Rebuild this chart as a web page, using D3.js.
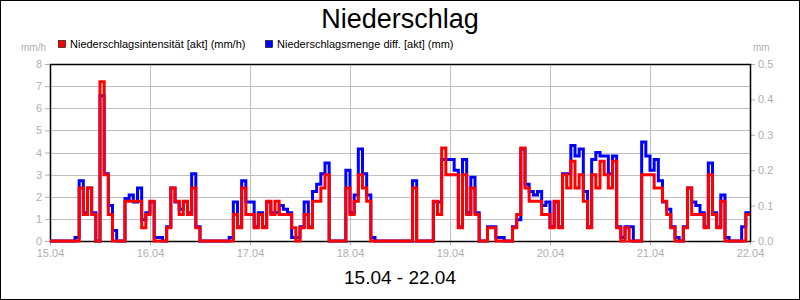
<!DOCTYPE html>
<html>
<head>
<meta charset="utf-8">
<script src="https://cdn.jsdelivr.net/npm/d3@7"></script>
<style>
  body { margin: 0; background: #fff; }
  svg { display: block; font-family: "Liberation Sans", Arial, sans-serif; }
  .tick text { fill: #b0b0b0; font-size: 11px; }
  .tick line { stroke: #b0b0b0; }
  .domain { display: none; }
</style>
</head>
<body>
<svg id="chart" width="800" height="300"></svg>
<script>
// day labels (x ticks every 24 h)
const dayLabels = ["15.04", "16.04", "17.04", "18.04", "19.04", "20.04", "21.04", "22.04"];

// Niederschlagsintensität [akt] (mm/h), hourly, one row per day
const intensity = [
  0,0,0,0,0,0, 0,2.4,1.2,2.4,1.2,0, 7.2,3.0,1.2,0,0,0, 1.8,1.8,1.8,1.8,0.6,1.2,
  1.8,0,0,0,0.6,2.4, 1.8,1.2,1.8,1.2,2.4,0.6, 0,0,0,0,0,0, 0,0,1.2,0.6,2.4,1.2,
  1.2,0.6,1.2,0.6,1.8,1.2, 1.8,1.2,1.2,1.2,0.6,0, 0.6,1.2,0.6,1.8,1.8,2.4, 3.0,0,0,0,0,2.4,
  1.2,1.8,3.0,2.4,1.8,0, 0,0,0,0,0,0, 0,0,0,2.4,0,0, 0,0,1.8,1.2,4.2,3.0,
  3.0,3.0,0.6,3.0,1.2,2.4, 1.2,0,0,0.6,0.6,0, 0,0,0,0.6,1.2,4.2, 2.4,1.8,1.8,1.8,1.2,1.2,
  0.6,1.8,0.6,3.0,2.4,3.6, 2.4,3.0,1.8,0.6,3.0,2.4, 3.6,3.0,2.4,3.6,0.6,0, 0.6,0,0,0,3.0,3.0,
  3.0,2.4,2.4,1.8,1.2,0.6, 0,0,0.6,2.4,1.2,1.2, 1.2,0.6,3.0,1.2,0.6,1.8, 0,0,0,0,0,1.2
];

// Niederschlagsmenge diff. [akt] (mm), hourly, one row per day
const amount = [
  0,0,0,0,0,0, 0.01,0.17,0.08,0.15,0.08,0, 0.41,0.19,0.10,0.03,0,0, 0.12,0.13,0.11,0.15,0.06,0.08,
  0.11,0.01,0.01,0,0.04,0.15, 0.11,0.09,0.11,0.08,0.19,0.04, 0,0,0,0,0,0, 0,0.01,0.11,0.04,0.17,0.11,
  0.11,0.04,0.08,0.04,0.11,0.08, 0.08,0.10,0.09,0.08,0.01,0.01, 0.04,0.11,0.04,0.14,0.16,0.19, 0.22,0,0,0,0,0.20,
  0.08,0.13,0.26,0.19,0.13,0.01, 0,0,0,0,0,0, 0,0,0,0.17,0,0, 0,0,0.11,0.11,0.23,0.23,
  0.23,0.20,0.04,0.23,0.08,0.18, 0.08,0,0,0.04,0.04,0.01, 0.01,0,0,0.04,0.06,0.26, 0.16,0.14,0.13,0.14,0.10,0.11,
  0.04,0.11,0.04,0.19,0.19,0.27, 0.24,0.26,0.14,0.04,0.23,0.25, 0.24,0.24,0.19,0.24,0.04,0.01, 0.04,0.04,0,0,0.28,0.24,
  0.20,0.23,0.17,0.11,0.09,0.04, 0.01,0,0.04,0.15,0.11,0.10, 0.08,0.04,0.22,0.08,0.04,0.13, 0.01,0,0,0,0.04,0.08
];

const leftTicks = [0, 1, 2, 3, 4, 5, 6, 7, 8];
const rightTicks = [0, 0.1, 0.2, 0.3, 0.4, 0.5];

const svg = d3.select("#chart");
const plot = { left: 50, right: 750, top: 64, bottom: 241 };

const x = d3.scaleLinear().domain([0, 168]).range([plot.left, plot.right]);
const yL = d3.scaleLinear().domain([0, 8]).range([plot.bottom, plot.top]);
const yR = d3.scaleLinear().domain([0, 0.5]).range([plot.bottom, plot.top]);

// outer frame
svg.append("rect")
    .attr("x", 0.5).attr("y", 0.5)
    .attr("width", 799).attr("height", 299)
    .attr("fill", "none").attr("stroke", "#000");

// title
svg.append("text")
    .attr("x", 400).attr("y", 28)
    .attr("text-anchor", "middle")
    .attr("font-size", 27)
    .text("Niederschlag");

svg.append("text")
    .attr("x", 400).attr("y", 284)
    .attr("text-anchor", "middle")
    .attr("font-size", 19)
    .text("15.04 - 22.04");

// legend
const legend = [
    { label: "Niederschlagsintensität [akt] (mm/h)", color: "#ff0000", x: 58 },
    { label: "Niederschlagsmenge diff. [akt] (mm)", color: "#0000ff", x: 265 }
];
legend.forEach(l => {
    svg.append("rect")
        .attr("x", l.x + 0.5).attr("y", 40.5)
        .attr("width", 7).attr("height", 7)
        .attr("fill", l.color).attr("stroke", "#000").attr("stroke-width", 0.6);
    svg.append("text")
        .attr("x", l.x + 12).attr("y", 48)
        .attr("font-size", 11)
        .text(l.label);
});

// unit labels
svg.append("text").attr("x", 46).attr("y", 51)
    .attr("text-anchor", "end").attr("font-size", 10).attr("fill", "#b0b0b0").text("mm/h");
svg.append("text").attr("x", 753).attr("y", 51)
    .attr("font-size", 10).attr("fill", "#b0b0b0").text("mm");

// grid
const grid = svg.append("g").attr("stroke", "#c0c0c0").attr("stroke-width", 1);
grid.selectAll(".hg").data(leftTicks.slice(1, -1)).join("line")
    .attr("x1", plot.left).attr("x2", plot.right)
    .attr("y1", d => Math.round(yL(d)) + 0.5).attr("y2", d => Math.round(yL(d)) + 0.5);
grid.selectAll(".vg").data(d3.range(1, 7)).join("line")
    .attr("y1", plot.top).attr("y2", plot.bottom)
    .attr("x1", d => Math.round(x(d * 24)) + 0.5).attr("x2", d => Math.round(x(d * 24)) + 0.5);

// axes
svg.append("g")
    .attr("transform", `translate(${plot.left},0)`)
    .call(d3.axisLeft(yL).tickValues(leftTicks).tickSize(5).tickPadding(3).tickFormat(d3.format("d")));
svg.append("g")
    .attr("transform", `translate(${plot.right},0)`)
    .call(d3.axisRight(yR).tickValues(rightTicks).tickSize(5).tickPadding(3).tickFormat(d3.format(".1f")));
svg.append("g")
    .attr("transform", `translate(0,${plot.bottom})`)
    .call(d3.axisBottom(x).tickValues(d3.range(0, 169, 24)).tickSize(4).tickPadding(4)
        .tickFormat((d, i) => dayLabels[i]));

// plot frame
svg.append("rect")
    .attr("x", plot.left + 0.5).attr("y", plot.top + 0.5)
    .attr("width", plot.right - plot.left).attr("height", plot.bottom - plot.top)
    .attr("fill", "none").attr("stroke", "#000").attr("stroke-width", 1.5);

// series
const withEnd = arr => arr.concat([arr[arr.length - 1]]);

const lineR = d3.line().x((d, i) => x(i)).y(d => yR(d)).curve(d3.curveStepAfter);
const lineL = d3.line().x((d, i) => x(i)).y(d => yL(d)).curve(d3.curveStepAfter);

svg.append("path")
    .datum(withEnd(amount))
    .attr("d", lineR)
    .attr("fill", "none").attr("stroke", "#0000ff").attr("stroke-width", 3);

svg.append("path")
    .datum(withEnd(intensity))
    .attr("d", lineL)
    .attr("fill", "none").attr("stroke", "#ff0000").attr("stroke-width", 3);
</script>
</body>
</html>
